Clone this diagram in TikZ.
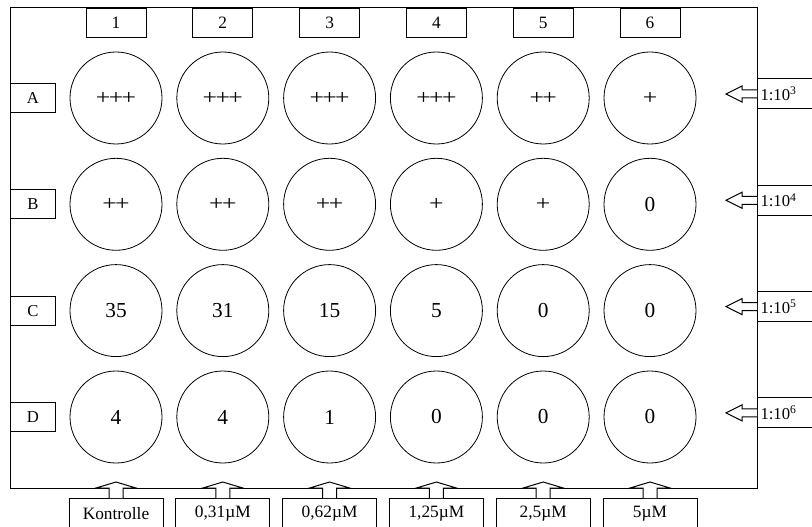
\documentclass[tikz,border=0pt]{standalone}
\usepackage{fontspec}
\setmainfont{Liberation Serif}
\usetikzlibrary{calc}
\newcommand{\pI}{\scalebox{1.2}[1]{+}}
\newcommand{\pII}{\scalebox{1.2}[1]{+\kern-1pt+}}
\newcommand{\pIII}{\scalebox{1.2}[1]{+\kern-1pt+\kern-1pt+}}
\begin{document}
\begin{tikzpicture}[
    x=0.75pt, y=-0.75pt,
    plate/.style={draw, line width=0.75pt},
    well/.style={
        circle, draw, line width=0.6pt,
        minimum size=69pt, inner sep=0pt,
        font=\fontsize{16}{18}\selectfont
    },
    colhead/.style={
        rectangle, draw, fill=white, line width=0.75pt,
        minimum width=45pt, minimum height=21.75pt,
        inner sep=0pt, font=\fontsize{13}{15}\selectfont
    },
    rowhead/.style={
        rectangle, draw, fill=white, line width=0.75pt,
        minimum width=33.75pt, minimum height=21.75pt,
        inner sep=0pt, font=\fontsize{12.5}{14}\selectfont
    },
    conc/.style={
        rectangle, draw, fill=white, line width=0.75pt,
        minimum width=70.5pt, minimum height=23.25pt,
        inner sep=0pt, font=\fontsize{13}{15}\selectfont
    },
    dilu/.style={
        rectangle, draw, fill=white, line width=0.75pt,
        text width=50.25pt, inner xsep=2.25pt, inner ysep=0pt,
        minimum height=22.5pt, align=left,
        font=\fontsize{12.5}{14}\selectfont
    },
    blockarr/.style={draw, fill=white, line width=0.75pt, line join=miter}
]
\useasboundingbox (0,0) rectangle (812,527);

% plate outline
\draw[plate] (10,8) rectangle (757,488);

% wells
\foreach \v [count=\c] in {\pIII,\pIII,\pIII,\pIII,\pII,\pI}
  \node[well] (A\c) at ({116+106.8*(\c-1)},98) {\v};
\foreach \v [count=\c] in {\pII,\pII,\pII,\pI,\pI,0}
  \node[well] (B\c) at ({116+106.8*(\c-1)},204.3) {\v};
\foreach \v [count=\c] in {35,31,15,5,0,0}
  \node[well] (C\c) at ({116+106.8*(\c-1)},310.6) {\v};
\foreach \v [count=\c] in {4,4,1,0,0,0}
  \node[well] (D\c) at ({116+106.8*(\c-1)},417) {\v};

% column and row heads
\foreach \c in {1,...,6}
  \node[colhead, anchor=north] (h\c) at ({116+106.8*(\c-1)},8) {\c};
\foreach \r/\y in {A/98, B/204.3, C/310.6, D/417}
  \node[rowhead, anchor=west] (r\r) at (10,\y) {\r};

% concentrations below
\foreach \k [count=\c] in {Kontrolle,{0,31µM},{0,62µM},{1,25µM},{2,5µM},5µM}
  \node[conc, anchor=north] (k\c) at ({116+106.8*(\c-1)},498) {\k};
\foreach \c in {1,...,6}
  \draw[blockarr] ($(k\c.north)+(-7,0)$) -- ++(0,-10) -- ++(-13,0)
    -- ++(20,-6) -- ++(20,6) -- ++(-13,0) -- ++(0,10);

% dilutions on the right
\foreach \e [count=\r] in {3,4,5,6}
  \node[dilu, anchor=west] (d\r) at (757,{94+106.3*(\r-1)}) {1:10\textsuperscript{\e}};
\foreach \r in {1,...,4}
  \draw[blockarr] ($(d\r.west)+(0,-4)$) -- ++(-15,0) -- ++(0,-4)
    -- ++(-16,8) -- ++(16,8) -- ++(0,-4) -- ++(15,0);

\end{tikzpicture}
\end{document}
